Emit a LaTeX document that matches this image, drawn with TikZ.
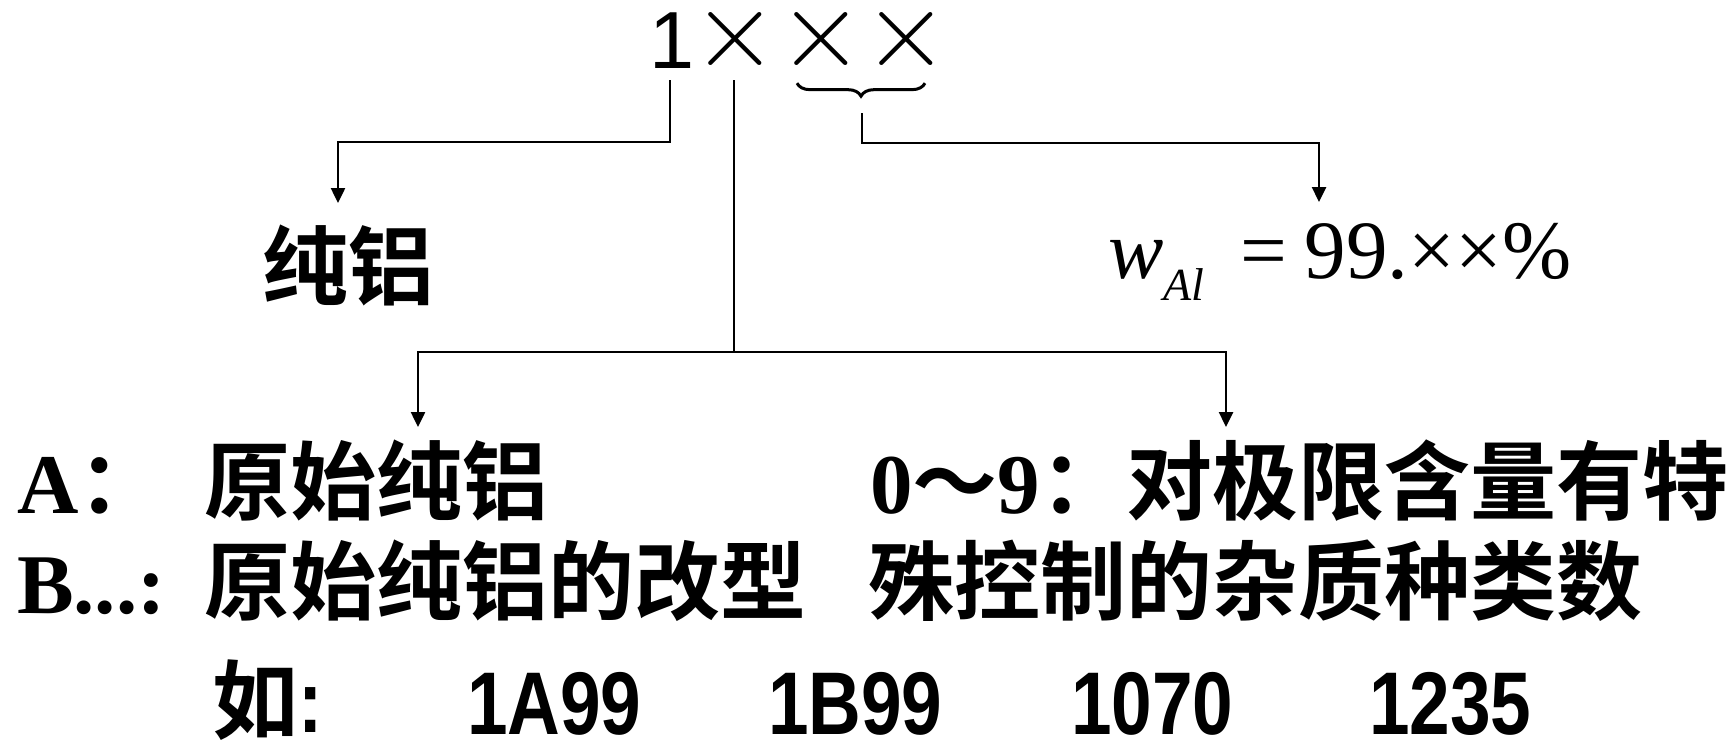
\documentclass[tikz,border=0pt]{standalone}
\usepackage{fontspec}
\usepackage{graphicx}
\setmainfont{Liberation Serif}
\newfontfamily\cjk{Noto Sans CJK SC}[BoldFont={Noto Sans CJK SC Bold}]
\newfontfamily\sans{Liberation Sans}
\usetikzlibrary{arrows.meta,decorations.pathreplacing}
\begin{document}
\begin{tikzpicture}[x=1pt,y=-1pt,
  every node/.style={inner sep=0pt,outer sep=0pt},
  big/.style={font=\bfseries\fontsize{85}{85}\selectfont},
  cjkbig/.style={font=\cjk\bfseries\fontsize{86}{86}\selectfont},
  conn/.style={line width=2.5pt},
  arr/.style={conn,-{Triangle[width=14pt,length=15pt]}},
  cross/.style={},
  code/.style={font=\sans\bfseries\fontsize{89}{89}\selectfont}]
\useasboundingbox (0,0) rectangle (1731,744);

% top code 1xxx
\node[anchor=base west, font=\sans\fontsize{81}{81}\selectfont] (one) at (649,68) {1};
\node[cross] (x1) at (735,39) {\scalebox{11}{$\times$}};
\node[cross] (x2) at (821,39) {\scalebox{11}{$\times$}};
\node[cross] (x3) at (906,39) {\scalebox{11}{$\times$}};
\draw[line width=3pt, decorate, decoration={brace,mirror,amplitude=13pt}]
  ([xshift=-24pt,yshift=-7.5pt]x2.south) -- ([xshift=19pt,yshift=-7.5pt]x3.south);

% upper texts
\node[cjkbig, anchor=base] (pure) at (348,298) {纯铝};
\node[anchor=base west, font=\fontsize{83}{83}\selectfont] (wal) at (1108,278)
  {\textit{w}\raisebox{-22pt}{\fontsize{46}{46}\selectfont\textit{Al}}\hspace{36pt}=\hspace{18pt}99.××\%};

% lower texts
\node[anchor=base west, big] (la) at (17,513) {A{\cjk ：}};
\node[cjkbig, anchor=base west] (origA) at (204,513) {原始纯铝};
\node[anchor=base west, big] (lb) at (17,613) {B...:};
\node[cjkbig, anchor=base west] (origB) at (204,613) {原始纯铝的改型};
\node[anchor=base west, big] (ra) at (870,513) {0{\cjk ～}9{\cjk\fontsize{86}{86}\selectfont ：对极限含量有特}};
\node[cjkbig, anchor=base west] (rb) at (868,613) {殊控制的杂质种类数};

% examples
\node[cjkbig, anchor=base west] (ru) at (212,732) {如\scalebox{0.82}[1]{\sans\fontsize{89}{89}\selectfont :}};
\node[code, anchor=base west] (e1) at (467,734) {\scalebox{0.82}[1]{1A99}};
\node[code, anchor=base west] (e2) at (768,734) {\scalebox{0.82}[1]{1B99}};
\node[code, anchor=base west] (e3) at (1071,734) {\scalebox{0.82}[1]{1070}};
\node[code, anchor=base west] (e4) at (1369,734) {\scalebox{0.82}[1]{1235}};

% connector end points
\coordinate (tipP) at (338,203);
\coordinate (hub) at (734,352);
\coordinate (tipA) at (418,427);
\coordinate (tipB) at (1226,427);
\coordinate (tipW) at (1319,202);
\coordinate (braceTip) at (862,113);

\draw[arr] ([xshift=-1.5pt,yshift=-12pt]one.south) -- ++(0,62) -| (tipP);
\draw[conn] ([xshift=-1pt,yshift=-4.5pt]x1.south) -- (hub);
\draw[arr] (hub) -| (tipA);
\draw[arr] (hub) -| (tipB);
\draw[arr] (braceTip) -- ++(0,30) -| (tipW);
\end{tikzpicture}
\end{document}
